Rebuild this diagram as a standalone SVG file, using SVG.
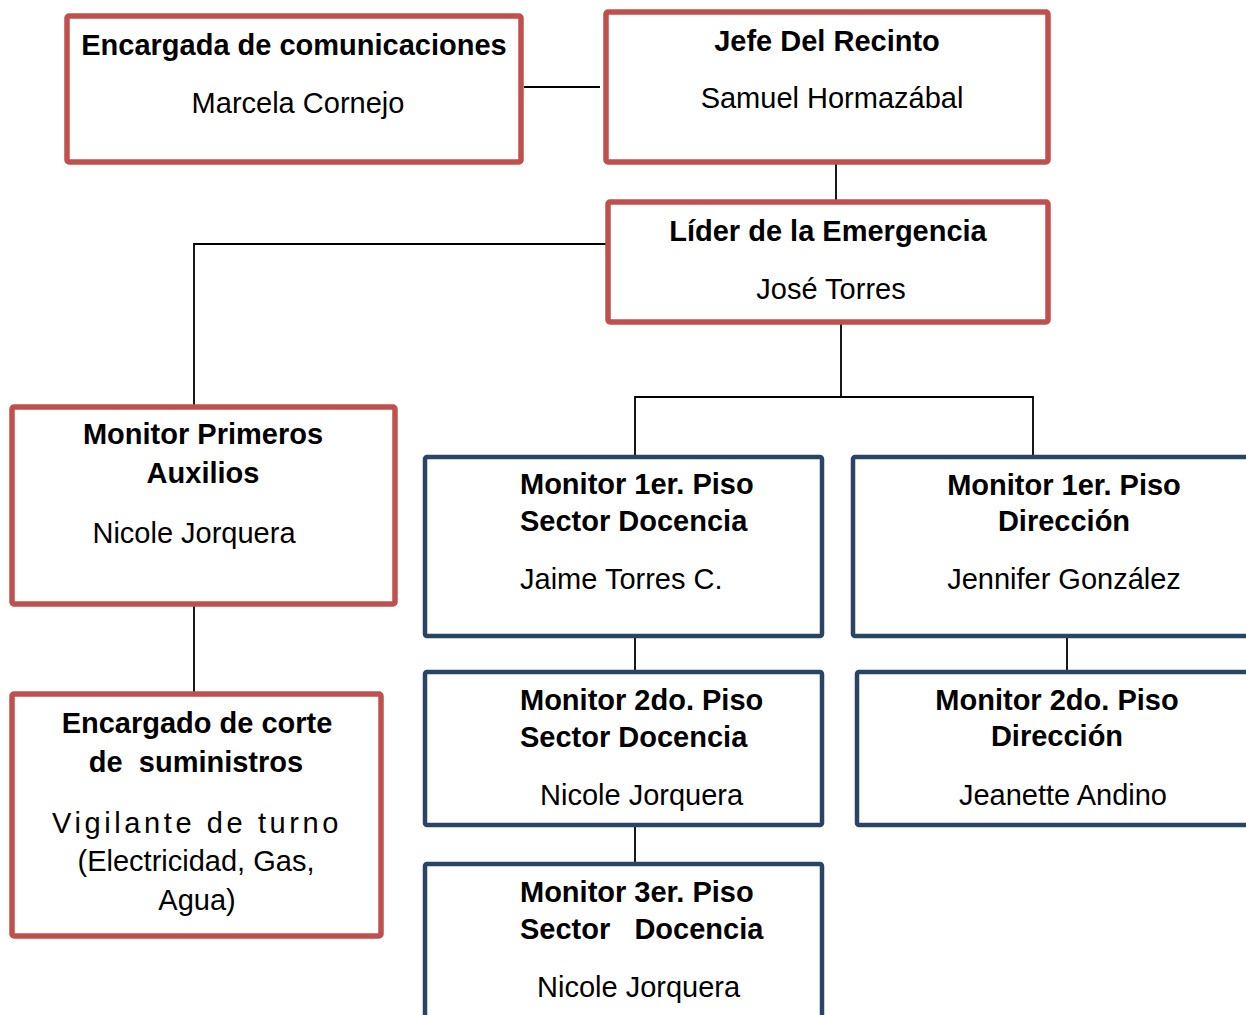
<svg xmlns="http://www.w3.org/2000/svg" width="1246" height="1015" viewBox="0 0 1246 1015">
<style>
.red{fill:#fff;stroke:#C0504D;stroke-width:5.5}
.blue{fill:#fff;stroke:#2A4466;stroke-width:4.5}
.b{font-family:"Liberation Sans",Arial,sans-serif;font-weight:bold;font-size:29px;fill:#000}
.r{font-family:"Liberation Sans",Arial,sans-serif;font-size:29px;fill:#000}
.c{text-anchor:middle}
.ln{fill:none;stroke:#000;stroke-width:1.8}
</style>
<rect width="1246" height="1015" fill="#fff"/>
<g id="connectors">
<line class="ln" x1="524" y1="87" x2="600" y2="87"/>
<line class="ln" x1="836" y1="164" x2="836" y2="200"/>
<polyline class="ln" points="606,244 194,244 194,405"/>
<line class="ln" x1="194" y1="605" x2="194" y2="692"/>
<line class="ln" x1="841" y1="323" x2="841" y2="397"/>
<polyline class="ln" points="635,455 635,397 1033,397 1033,455"/>
<line class="ln" x1="635" y1="637" x2="635" y2="670"/>
<line class="ln" x1="1067" y1="637" x2="1067" y2="670"/>
<line class="ln" x1="635" y1="826" x2="635" y2="862"/>
</g>
<g id="n-comunicaciones">
<rect class="red" x="67" y="16" width="454" height="146" rx="2"/>
<text class="b c" x="294" y="55">Encargada de comunicaciones</text>
<text class="r c" x="298" y="113">Marcela Cornejo</text>
</g>
<g id="n-jefe">
<rect class="red" x="606" y="12" width="442" height="150" rx="2"/>
<text class="b c" x="827" y="51">Jefe Del Recinto</text>
<text class="r c" x="832" y="108">Samuel Hormazábal</text>
</g>
<g id="n-lider">
<rect class="red" x="608" y="202" width="440" height="120" rx="2"/>
<text class="b c" x="828" y="241">Líder de la Emergencia</text>
<text class="r c" x="831" y="299">José Torres</text>
</g>
<g id="n-primeros">
<rect class="red" x="12" y="407" width="383" height="197" rx="2"/>
<text class="b c" x="203" y="444">Monitor Primeros</text>
<text class="b c" x="203" y="483">Auxilios</text>
<text class="r c" x="194" y="543">Nicole Jorquera</text>
</g>
<g id="n-corte">
<rect class="red" x="12" y="694" width="369" height="242" rx="2"/>
<text class="b c" x="197" y="733">Encargado de corte</text>
<text class="b c" x="196" y="772" xml:space="preserve">de  suministros</text>
<text class="r" x="52" y="833" letter-spacing="3.6">Vigilante de turno</text>
<text class="r c" x="196" y="871">(Electricidad, Gas,</text>
<text class="r c" x="197" y="910">Agua)</text>
</g>
<g id="n-piso1-docencia">
<rect class="blue" x="425" y="457" width="397" height="179" rx="2"/>
<text class="b" x="520" y="494">Monitor 1er. Piso</text>
<text class="b" x="520" y="531">Sector Docencia</text>
<text class="r" x="520" y="589">Jaime Torres C.</text>
</g>
<g id="n-piso1-direccion">
<rect class="blue" x="853" y="457" width="400" height="179" rx="2"/>
<text class="b c" x="1064" y="495">Monitor 1er. Piso</text>
<text class="b c" x="1064" y="531">Dirección</text>
<text class="r c" x="1064" y="589">Jennifer González</text>
</g>
<g id="n-piso2-docencia">
<rect class="blue" x="425" y="672" width="397" height="153" rx="2"/>
<text class="b" x="520" y="710">Monitor 2do. Piso</text>
<text class="b" x="520" y="747">Sector Docencia</text>
<text class="r" x="540" y="805">Nicole Jorquera</text>
</g>
<g id="n-piso2-direccion">
<rect class="blue" x="857" y="672" width="396" height="153" rx="2"/>
<text class="b c" x="1057" y="710">Monitor 2do. Piso</text>
<text class="b c" x="1057" y="746">Dirección</text>
<text class="r c" x="1063" y="805">Jeanette Andino</text>
</g>
<g id="n-piso3-docencia">
<rect class="blue" x="425" y="864" width="397" height="160" rx="2"/>
<text class="b" x="520" y="902">Monitor 3er. Piso</text>
<text class="b" x="520" y="939" xml:space="preserve">Sector   Docencia</text>
<text class="r" x="537" y="997">Nicole Jorquera</text>
</g>
</svg>
